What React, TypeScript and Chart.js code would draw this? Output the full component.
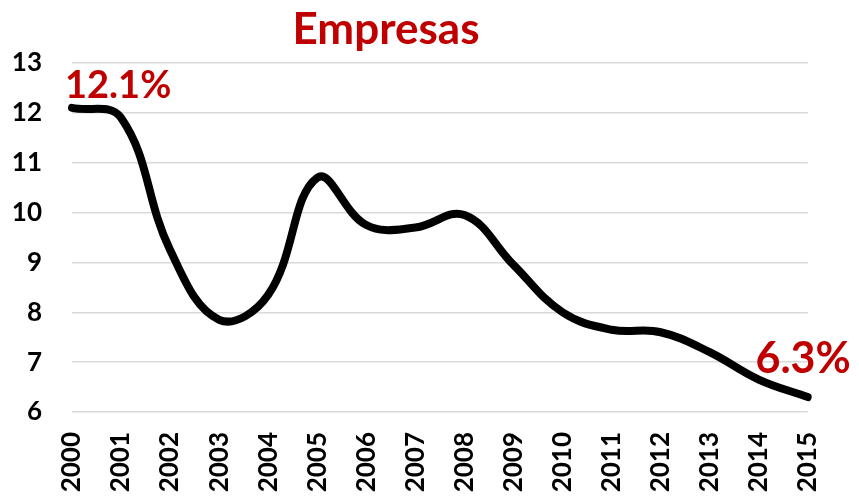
import React, { useEffect, useRef } from "react";
import { Chart, registerables } from "chart.js";

Chart.register(...registerables);

const years = ["2000","2001","2002","2003","2004","2005","2006","2007","2008","2009","2010","2011","2012","2013","2014","2015"];
const values = [12.1, 11.9, 9.25, 7.85, 8.35, 10.7, 9.75, 9.7, 9.95, 8.95, 8.0, 7.65, 7.6, 7.2, 6.65, 6.3];
const yTicks = [6, 7, 8, 9, 10, 11, 12, 13];
const titleText = "Empresas";
const startLabel = "12.1%";
const endLabel = "6.3%";

const FONT = "Lato, 'Liberation Sans', sans-serif";
const RED = "#C00000";

export default function App() {
  const ref = useRef<HTMLCanvasElement | null>(null);
  useEffect(() => {
    if (!ref.current) return;
    const overlay = {
      id: "overlay",
      afterDraw(chart: any) {
        const ctx = chart.ctx;
        const xs = chart.scales.x;
        const ys = chart.scales.y;
        ctx.save();
        ctx.fillStyle = RED;
        ctx.font = `bold 44px ${FONT}`;
        ctx.textAlign = "center";
        ctx.textBaseline = "alphabetic";
        ctx.fillText(titleText, 386, 44);
        ctx.font = `bold 38px ${FONT}`;
        ctx.textAlign = "left";
        ctx.fillText(startLabel, xs.getPixelForValue(0) - 7, ys.getPixelForValue(values[0]) - 10);
        ctx.font = `bold 43px ${FONT}`;
        ctx.textAlign = "right";
        const last = values.length - 1;
        ctx.fillText(endLabel, xs.getPixelForValue(last) + 43, ys.getPixelForValue(values[last]) - 24);
        ctx.restore();
      },
    };
    const chart = new Chart(ref.current, {
      type: "line",
      data: {
        labels: years,
        datasets: [
          {
            data: values,
            borderColor: "#000000",
            borderWidth: 8,
            tension: 0.4,
            pointRadius: 0,
            fill: false,
            borderCapStyle: "round",
            borderJoinStyle: "round",
          },
        ],
      },
      options: {
        animation: false,
        responsive: false,
        maintainAspectRatio: false,
        layout: { padding: { top: 63, right: 49, left: 0, bottom: 0 } },
        plugins: { legend: { display: false }, tooltip: { enabled: false }, title: { display: false } },
        scales: {
          x: {
            offset: false,
            grid: { display: false, drawTicks: false },
            border: { display: false },
            ticks: {
              color: "#000",
              font: { family: FONT, size: 26, weight: "bold" },
              maxRotation: 90,
              minRotation: 90,
              padding: 20,
              autoSkip: false,
            },
            afterFit(scale: any) {
              scale.height = 85;
            },
          },
          y: {
            min: 6,
            max: 13,
            afterBuildTicks(scale: any) {
              scale.ticks = yTicks.map((v) => ({ value: v }));
            },
            grid: { color: "#D9D9D9", lineWidth: 1.5, drawTicks: false },
            border: { display: false },
            ticks: {
              color: "#000",
              font: { family: FONT, size: 26, weight: "bold" },
              padding: 30,
            },
            afterFit(scale: any) {
              scale.width = 72;
            },
          },
        },
      },
      plugins: [overlay],
    });
    return () => chart.destroy();
  }, []);
  return (
    <div style={{ position: "absolute", left: 0, top: 0, width: 859, height: 497, background: "#fff" }}>
      <canvas ref={ref} width={859} height={497} style={{ display: "block" }} />
    </div>
  );
}
